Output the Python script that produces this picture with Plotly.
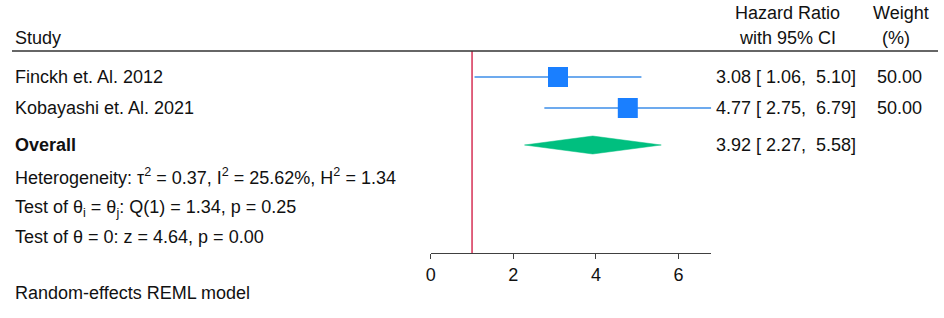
import plotly.graph_objects as go

# ---------------- data ----------------
studies = ["Finckh et. Al. 2012", "Kobayashi et. Al. 2021"]
hr = [3.08, 4.77]
ci_lo = [1.06, 2.75]
ci_hi = [5.10, 6.79]
weights = [50.00, 50.00]
overall_hr = 3.92
overall_lo = 2.27
overall_hi = 5.58
null_value = 1
tick_vals = [0, 2, 4, 6]
tick_text = ["0", "2", "4", "6"]
tau2, i2, h2 = 0.37, 25.62, 1.34
q_df, q_stat, q_p = 1, 1.34, 0.25
z_stat, z_p = 4.64, 0.00
model_note = "Random-effects REML model"

# ---------------- layout constants ----------------
W, H = 944, 318
FONT = "Liberation Sans, Arial, Helvetica, sans-serif"
FS = 18
TXT = "#111111"
SQ_COLOR = "#1a7fff"
CI_COLOR = "#3d8ee8"
DIA_COLOR = "#00bf7f"
NULL_COLOR = "#d0103a"
AX_COLOR = "#404040"

row_y = [77, 108]      # vertical pixel rows of the studies
overall_y = 145
top_y, axis_y = 51, 253
x0_px, x1_px = 428, 710


def px(x):
    return x / W


def py(y):
    return 1 - y / H


fig = go.Figure()

# null line
fig.add_trace(go.Scatter(x=[null_value, null_value], y=[top_y, axis_y], mode="lines",
                         line=dict(color=NULL_COLOR, width=1.3), hoverinfo="skip",
                         showlegend=False, cliponaxis=False))

# CI lines
for i in range(len(studies)):
    fig.add_trace(go.Scatter(x=[ci_lo[i], ci_hi[i]], y=[row_y[i], row_y[i]], mode="lines",
                             line=dict(color=CI_COLOR, width=1.5), hoverinfo="skip",
                             showlegend=False, cliponaxis=False))

# squares
fig.add_trace(go.Scatter(x=hr, y=row_y, mode="markers",
                         marker=dict(symbol="square", size=[20 * (w / 50.0) ** 0.5 for w in weights],
                                     color=SQ_COLOR, opacity=1, line=dict(width=0)),
                         hoverinfo="skip", showlegend=False, cliponaxis=False))

# overall diamond
dh = 9
fig.add_trace(go.Scatter(x=[overall_lo, overall_hr, overall_hi, overall_hr, overall_lo],
                         y=[overall_y, overall_y - dh, overall_y, overall_y + dh, overall_y],
                         mode="lines", fill="toself", fillcolor=DIA_COLOR,
                         line=dict(color=DIA_COLOR, width=0.5), hoverinfo="skip",
                         showlegend=False, cliponaxis=False))

annotations = []


def ann(text, x, y, xanchor="left", bold=False):
    annotations.append(dict(
        text=f"<b>{text}</b>" if bold else text,
        x=px(x), y=py(y), xref="paper", yref="paper",
        xanchor=xanchor, yanchor="middle", showarrow=False,
        font=dict(family=FONT, size=FS, color=TXT)))


def fmt_ci(e, lo, hi):
    return f"{e:.2f} [{lo:5.2f}, {hi:5.2f}]".replace(" ", "\u00a0")


# headers
ann("Study", 8, 38)
ann("Hazard Ratio", 787, 13, "center")
ann("with 95% CI", 787, 38, "center")
ann("Weight", 901, 13, "center")
ann("(%)", 896, 38, "center")

# study rows
for i, s in enumerate(studies):
    ann(s, 8, row_y[i])
    ann(fmt_ci(hr[i], ci_lo[i], ci_hi[i]), 713, row_y[i])
    ann(f"{weights[i]:.2f}", 899, row_y[i], "center")

ann("Overall", 8, overall_y, bold=True)
ann(fmt_ci(overall_hr, overall_lo, overall_hi), 713, overall_y)

ann(f"Heterogeneity: \u03c4<sup>2</sup> = {tau2:.2f}, I<sup>2</sup> = {i2:.2f}%, H<sup>2</sup> = {h2:.2f}", 8, 176)
ann(f"Test of \u03b8<sub>i</sub> = \u03b8<sub>j</sub>: Q({q_df}) = {q_stat:.2f}, p = {q_p:.2f}", 8, 208)
ann(f"Test of \u03b8 = 0: z = {z_stat:.2f}, p = {z_p:.2f}", 8, 237)
ann(model_note, 8, 293)

fig.update_layout(
    width=W, height=H,
    margin=dict(l=0, r=0, t=0, b=0),
    paper_bgcolor="white", plot_bgcolor="white",
    showlegend=False,
    annotations=annotations,
    shapes=[dict(type="line", xref="paper", yref="paper",
                 x0=px(7), x1=px(938), y0=py(top_y), y1=py(top_y),
                 line=dict(color="#333333", width=1.5))],
    xaxis=dict(domain=[px(x0_px), px(x1_px)], range=[0, ci_hi[1]],
               tickvals=tick_vals, ticktext=tick_text,
               ticks="outside", ticklen=5, tickwidth=1, tickcolor=AX_COLOR,
               showline=True, linecolor=AX_COLOR, linewidth=1,
               showgrid=False, zeroline=False,
               tickfont=dict(family=FONT, size=FS, color=TXT), fixedrange=True),
    yaxis=dict(domain=[py(axis_y), py(top_y)], range=[axis_y, top_y],
               visible=False, fixedrange=True),
)

fig.write_html("out.html", config={"displayModeBar": False},
               post_script="document.body.style.margin='0';")
